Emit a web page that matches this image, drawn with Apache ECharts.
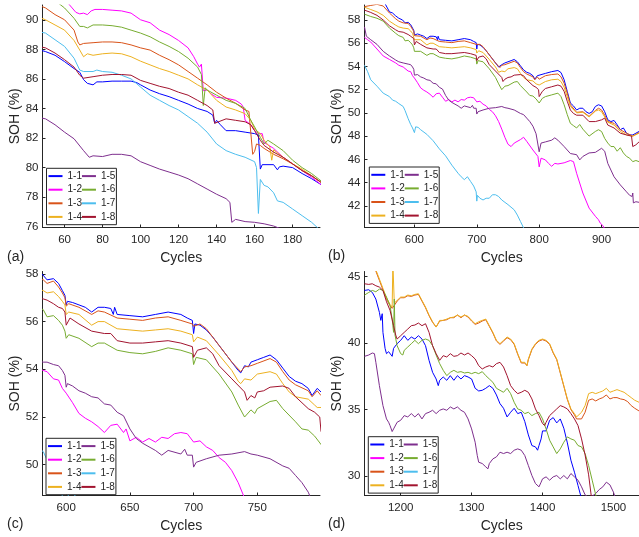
<!DOCTYPE html>
<html><head><meta charset="utf-8">
<script src="https://cdn.jsdelivr.net/npm/echarts@6/dist/echarts.min.js"></script>
<style>html,body{margin:0;padding:0;background:#fff}#chart{width:639px;height:537px}</style>
</head><body><div id="chart"></div>
<script>
const seriesNames = ['1-1','1-2','1-3','1-4','1-5','1-6','1-7','1-8'];
const seriesColors = ['#0000FF','#FF00FF','#D95319','#EDB120','#7E2F8E','#77AC30','#4DBEEE','#A2142F'];
const legendOrder = ['1-1','1-5','1-2','1-6','1-3','1-7','1-4','1-8'];
const panelLabels = ['(a)','(b)','(c)','(d)'];

// tick values
const xTicksA = [60,80,100,120,140,160,180];
const yTicksA = [76,78,80,82,84,86,88,90];
const xTicksB = [600,700,800,900];
const yTicksB = [42,44,46,48,50,52,54,56,58];
const xTicksC = [600,650,700,750];
const yTicksC = [50,52,54,56,58];
const xTicksD = [1200,1300,1400,1500];
const yTicksD = [30,35,40,45];

// ---- panel (a): cycles 48-195 ----
const A11 = [[48,87.92],[50,87.85],[55,87.6],[60,87.17],[65,86.7],[68,86.45],[70,85.95],[72,85.7],[75,85.6],[77,85.8],[80,85.8],[85,85.85],[90,85.85],[95,85.85],[98,85.75],[100,85.6],[105,85.25],[110,85.0],[115,84.8],[120,84.55],[125,84.3],[130,84.0],[135,83.8],[138,83.55],[139,83.0],[140,83.2],[142,82.9],[145,82.5],[150,82.5],[155,82.4],[160,82.3],[162,82.2],[163,79.9],[164,80.2],[165,80.25],[170,80.2],[172,79.85],[173,80.05],[175,80.1],[180,80.0],[185,79.6],[190,79.25],[195,78.85]];
const A12 = [[60,91.6],[62,91.1],[64,90.8],[66,90.5],[68,90.4],[70,90.45],[72,90.35],[74,90.6],[76,90.7],[80,90.7],[85,90.65],[90,90.6],[95,90.45],[100,90.0],[105,89.8],[110,89.3],[115,89.0],[120,88.6],[125,88.1],[128,87.5],[130,87.0],[131,86.8],[132,87.0],[133,85.2],[135,85.25],[137,85.0],[140,84.75],[145,84.7],[150,84.55],[153,84.3],[154,84.1],[155,83.2],[158,82.9],[160,82.5],[162,82.3],[164,82.3],[165,81.7],[170,81.3],[175,80.7],[180,80.25],[185,79.8],[190,79.35],[195,78.85]];
const A13 = [[48,90.9],[50,90.8],[55,90.35],[60,90.0],[65,89.3],[67,88.5],[68,88.3],[70,88.4],[75,88.45],[80,88.5],[85,88.5],[90,88.45],[95,88.3],[100,88.1],[105,87.95],[110,87.6],[115,87.3],[120,86.95],[125,86.5],[130,86.05],[135,85.6],[140,85.1],[145,84.7],[150,84.35],[155,83.9],[157,83.8],[158,83.85],[159,80.9],[160,81.1],[161,81.6],[163,81.5],[165,81.3],[170,80.9],[175,80.6],[180,80.25],[185,79.8],[190,79.45],[195,79.0]];
const A14 = [[48,90.1],[50,90.0],[55,89.65],[60,89.3],[65,88.6],[68,87.95],[70,87.5],[72,87.7],[75,87.6],[80,87.7],[85,87.75],[90,87.7],[95,87.5],[100,87.2],[105,86.95],[110,86.7],[115,86.5],[120,86.25],[125,86.0],[130,85.6],[135,85.25],[140,84.55],[145,84.1],[150,83.9],[155,83.65],[158,83.2],[160,82.6],[163,82.3],[165,81.85],[168,81.4],[169,80.5],[170,81.2],[175,80.7],[180,80.25],[185,79.9],[190,79.45],[195,79.0]];
const A15 = [[48,83.35],[50,83.3],[55,82.9],[60,82.4],[65,81.95],[70,81.15],[73,80.7],[75,80.8],[80,80.75],[85,80.9],[90,80.9],[95,80.8],[100,80.4],[105,80.15],[110,79.9],[115,79.7],[120,79.5],[125,79.25],[130,78.9],[135,78.55],[140,78.2],[145,77.9],[147,77.65],[148,76.3],[150,76.5],[155,76.35],[160,76.3],[165,76.2],[170,76.05],[173,75.9],[178,75.7]];
const A16 = [[55,91.5],[57,91.1],[60,90.8],[65,90.1],[68,89.55],[70,89.55],[72,89.45],[75,89.65],[80,89.65],[85,89.6],[90,89.5],[95,89.3],[100,89.1],[105,88.85],[110,88.5],[115,88.2],[120,87.85],[125,87.4],[130,86.8],[132,86.3],[133,84.2],[134,85.4],[135,85.25],[140,84.9],[145,84.55],[150,84.35],[155,84.0],[158,83.2],[160,82.75],[163,82.05],[165,81.6],[167,81.85],[170,81.6],[175,81.15],[180,80.5],[185,80.0],[190,79.6],[195,79.1]];
const A17 = [[48,89.15],[50,89.1],[55,88.65],[60,88.2],[65,87.4],[68,86.6],[70,86.5],[75,86.5],[77,86.6],[80,86.5],[85,86.45],[90,86.25],[95,86.0],[100,85.45],[105,84.9],[110,84.55],[115,84.2],[120,83.9],[125,83.45],[130,83.0],[135,82.4],[140,81.6],[145,81.15],[150,80.9],[155,80.7],[160,80.4],[161,80.0],[162,76.9],[163,79.2],[165,78.8],[167,78.7],[170,78.3],[172,77.75],[175,77.65],[180,77.2],[185,76.75],[190,76.3],[193,75.95],[196,75.6]];
const A18 = [[48,88.15],[50,88.1],[55,87.75],[60,87.3],[65,86.8],[68,86.25],[70,86.05],[75,86.15],[80,86.25],[85,86.3],[90,86.3],[95,86.25],[100,85.9],[105,85.7],[110,85.5],[115,85.35],[120,85.1],[125,84.9],[130,84.55],[135,84.2],[138,83.9],[139,83.0],[140,83.1],[145,83.3],[150,83.2],[155,83.1],[158,82.9],[160,82.5],[163,81.85],[165,81.5],[170,81.05],[175,80.7],[180,80.25],[185,79.8],[190,79.45],[195,79.0]];

// ---- panels (b) and (c): cycles 520-960 ----
const B11 = [[545,59.8],[553,59.4],[560,58.7],[565,58.6],[570,58.35],[575,58.15],[581,58.0],[585,57.75],[590,57.8],[594,57.6],[597,57.3],[599,57.1],[600,56.7],[601,56.85],[605,56.8],[610,56.7],[615,56.6],[620,56.4],[625,56.6],[630,56.6],[635,56.55],[637,56.3],[638,56.6],[640,56.3],[650,56.25],[660,56.2],[670,56.3],[680,56.4],[690,56.3],[695,56.15],[699,56.05],[700,55.5],[701,55.9],[705,55.85],[710,55.65],[715,55.35],[720,55.0],[725,54.65],[730,54.3],[735,53.95],[737,53.85],[740,54.15],[743,54.1],[745,54.3],[750,54.4],[755,54.5],[760,54.6],[765,54.4],[770,54.05],[775,53.7],[780,53.5],[785,53.4],[790,53.2],[793,52.9],[797,53.2],[800,53.05],[810,53.4],[820,53.55],[830,53.65],[835,53.47],[840,52.85],[845,51.85],[850,50.85],[855,50.6],[860,50.25],[865,50.4],[870,50.4],[875,50.1],[880,49.95],[885,50.1],[890,50.55],[895,50.7],[900,50.6],[905,50.1],[910,49.4],[915,49.25],[920,49.35],[925,48.97],[930,48.55],[935,48.7],[940,48.25],[945,48.1],[950,48.1],[955,48.25],[960,48.4]];
const B12 = [[520,56.5],[525,56.3],[530,56.1],[540,55.5],[550,54.9],[560,54.6],[570,54.3],[575,54.1],[582,53.95],[585,53.9],[590,53.6],[594,53.55],[597,53.2],[600,53.0],[605,52.6],[610,52.15],[615,51.95],[620,51.8],[625,51.6],[630,51.35],[635,51.65],[640,51.7],[645,51.35],[647,51.5],[650,51.0],[655,51.15],[660,50.95],[665,51.1],[670,50.95],[675,51.15],[680,51.1],[685,51.3],[690,51.35],[695,51.3],[700,50.95],[705,51.0],[710,50.75],[715,50.6],[720,50.3],[725,50.1],[730,49.75],[735,49.25],[740,48.6],[745,47.9],[750,47.3],[755,47.1],[760,47.4],[770,47.7],[775,47.9],[780,47.55],[790,46.8],[798,46.25],[800,45.35],[803,46.1],[810,45.95],[815,45.65],[820,45.4],[825,45.65],[830,45.6],[840,45.7],[850,45.9],[855,45.8],[860,44.8],[870,43.1],[880,41.8],[890,41.1],[895,40.8],[898,40.5],[900,40.6],[902,40.3],[910,39.5]];
const B13 = [[520,59.15],[530,59.25],[540,59.35],[550,59.2],[560,58.6],[570,58.1],[575,57.9],[582,57.75],[585,57.6],[590,57.7],[594,57.45],[597,57.2],[599,57.0],[600,56.65],[602,56.75],[610,56.6],[620,56.3],[625,56.45],[630,56.4],[640,56.15],[650,56.1],[660,56.05],[670,56.15],[680,56.2],[690,56.05],[699,55.9],[700,55.8],[705,55.9],[710,55.7],[720,55.0],[730,54.3],[737,53.9],[740,54.1],[745,54.15],[750,54.25],[760,54.45],[765,54.3],[770,53.9],[775,53.55],[780,53.35],[790,53.1],[793,52.85],[797,53.1],[800,52.9],[810,53.2],[820,53.3],[830,53.35],[835,53.1],[840,52.55],[845,51.7],[850,50.7],[860,50.05],[870,50.1],[880,49.7],[890,50.2],[895,50.4],[900,50.25],[905,49.8],[910,49.25],[920,49.1],[930,48.55],[940,48.25],[950,48.0],[960,48.3]];
const B14 = [[520,59.1],[530,58.9],[540,58.7],[550,58.4],[560,57.9],[570,57.55],[575,57.4],[582,57.3],[585,57.2],[590,57.25],[594,57.05],[597,56.85],[599,56.7],[600,56.3],[602,56.4],[610,56.3],[620,55.85],[625,56.0],[630,56.0],[640,55.7],[650,55.65],[660,55.6],[670,55.65],[680,55.7],[690,55.6],[699,55.45],[700,55.15],[703,55.35],[710,55.2],[720,54.6],[730,53.95],[735,53.5],[737,53.4],[740,53.6],[745,53.55],[750,53.8],[760,53.9],[765,53.8],[770,53.4],[775,53.05],[780,52.85],[790,52.75],[795,52.5],[797,52.4],[800,52.4],[810,52.7],[820,52.85],[830,52.9],[835,52.7],[840,52.2],[845,51.4],[850,50.55],[860,50.0],[870,50.05],[880,49.65],[890,50.15],[895,50.25],[900,50.1],[910,49.2],[920,48.95],[930,48.4],[940,48.1],[950,48.0],[960,48.25]];
const B15 = [[520,57.4],[522,57.5],[523,56.6],[530,56.3],[540,55.9],[550,55.3],[560,54.9],[570,54.55],[575,54.4],[582,54.3],[585,54.3],[590,54.2],[594,54.15],[597,53.95],[599,53.75],[600,53.25],[601,53.4],[605,53.3],[610,53.1],[615,53.0],[620,52.85],[625,52.8],[630,52.55],[635,52.5],[640,52.2],[645,52.05],[650,51.5],[655,51.1],[660,50.9],[670,50.6],[675,50.4],[680,50.6],[690,50.45],[693,50.65],[695,50.4],[699,50.4],[700,49.9],[702,50.1],[710,50.25],[720,50.4],[730,50.45],[740,50.55],[745,50.45],[750,50.4],[760,50.25],[770,49.95],[775,49.85],[780,49.55],[785,49.25],[790,48.85],[795,48.2],[800,46.65],[803,47.4],[810,47.5],[820,47.65],[825,47.85],[830,47.65],[840,47.1],[850,46.5],[860,46.4],[865,45.95],[870,46.25],[880,46.55],[890,46.6],[900,46.95],[905,46.7],[910,45.65],[920,44.5],[930,43.8],[940,43.2],[945,42.9],[949,42.8],[950,43.1],[951,42.25],[955,42.35],[960,42.3]];
const B16 = [[520,58.5],[530,58.3],[540,58.15],[550,57.9],[560,57.3],[570,56.85],[575,56.65],[582,56.5],[585,56.2],[590,56.25],[594,56.05],[597,55.85],[599,55.6],[600,55.3],[602,55.45],[610,55.3],[620,54.95],[625,55.1],[630,55.1],[640,54.8],[650,54.7],[660,54.65],[670,54.75],[680,54.9],[690,54.8],[699,54.65],[700,54.2],[702,54.5],[710,54.4],[720,53.8],[730,53.05],[735,52.5],[740,52.0],[745,52.3],[748,52.15],[750,52.35],[760,52.65],[765,52.7],[770,52.35],[780,51.8],[785,51.5],[790,51.45],[795,51.2],[800,50.85],[805,51.25],[810,51.4],[820,51.55],[830,51.7],[835,51.4],[840,50.7],[845,49.85],[850,49.1],[855,48.9],[860,48.7],[865,49.0],[870,48.6],[880,48.0],[890,48.4],[895,48.55],[900,48.4],[905,47.8],[910,47.4],[915,47.1],[920,47.1],[925,46.7],[930,47.0],[935,46.55],[940,46.25],[945,46.1],[950,45.8],[955,45.9],[960,45.8]];
const B17 = [[520,54.1],[525,53.55],[530,52.85],[540,52.3],[550,51.7],[560,51.4],[565,51.1],[570,51.0],[575,50.8],[582,50.55],[585,50.2],[590,49.5],[594,49.0],[597,48.7],[599,48.55],[600,48.3],[602,48.8],[606,48.75],[610,48.55],[620,48.15],[630,47.6],[640,46.9],[650,46.3],[660,45.5],[670,44.8],[675,44.5],[680,44.25],[685,44.5],[690,44.1],[695,43.7],[699,43.2],[700,42.4],[701,42.9],[705,42.65],[710,42.5],[715,42.65],[720,42.65],[725,42.95],[730,42.95],[735,42.8],[740,42.5],[750,42.1],[760,41.65],[765,41.2],[770,40.65],[775,40.1],[780,39.5]];
const B18 = [[520,58.85],[530,58.65],[540,58.4],[550,58.0],[560,57.5],[570,57.15],[575,57.0],[582,56.95],[585,56.9],[590,56.75],[594,56.6],[597,56.55],[599,56.4],[600,55.85],[603,56.15],[610,55.9],[620,55.6],[630,55.5],[635,55.5],[640,55.2],[650,55.1],[660,55.1],[670,55.15],[680,55.2],[690,55.1],[699,54.95],[700,54.5],[703,54.8],[710,54.9],[715,54.65],[720,54.15],[730,53.6],[740,53.05],[742,52.7],[745,52.9],[748,52.8],[750,53.05],[755,53.1],[760,53.25],[770,53.3],[775,53.2],[780,52.85],[790,52.35],[795,52.2],[799,52.0],[800,51.4],[805,51.85],[810,52.1],[820,52.25],[830,52.4],[835,52.3],[840,51.85],[845,51.0],[850,50.25],[855,49.95],[860,49.8],[870,49.8],[880,49.25],[890,49.25],[900,49.4],[905,49.55],[910,48.95],[920,48.7],[930,48.25],[940,48.1],[948,48.0],[950,47.1],[955,47.25],[960,47.5]];

// ---- panel (d): cycles 1149-1536 ----
const D11 = [[1149,43.95],[1155,44.0],[1160,43.8],[1165,43.3],[1170,42.3],[1172,41.7],[1174,42.2],[1175,40.8],[1178,39.6],[1180,39.2],[1183,39.35],[1185,39.2],[1188,39.0],[1190,39.6],[1195,39.95],[1200,40.2],[1205,40.55],[1210,40.2],[1215,40.45],[1220,40.3],[1225,40.55],[1230,40.3],[1235,39.8],[1240,38.7],[1245,37.8],[1250,37.3],[1253,36.8],[1255,37.2],[1260,37.45],[1265,37.2],[1270,37.55],[1275,37.2],[1280,37.55],[1285,37.3],[1290,37.55],[1295,37.45],[1300,37.3],[1305,36.6],[1310,36.4],[1315,36.45],[1320,36.6],[1325,36.8],[1330,36.6],[1335,36.1],[1340,35.45],[1345,35.1],[1350,34.45],[1355,34.8],[1360,35.1],[1365,34.7],[1370,34.8],[1375,34.1],[1380,33.1],[1385,32.3],[1390,32.2],[1393,31.95],[1395,32.3],[1398,32.8],[1400,33.4],[1405,33.4],[1410,34.2],[1415,34.4],[1420,34.0],[1425,34.3],[1430,33.6],[1435,32.5],[1440,31.2],[1445,30.3],[1450,29.3],[1455,28.3]];
const D12 = [];
const D13 = [[1160,46.0],[1165,45.4],[1170,44.7],[1175,44.0],[1180,43.3],[1185,42.8],[1188,42.6],[1192,42.9],[1195,43.15],[1200,43.4],[1205,43.4],[1210,43.55],[1215,43.5],[1220,43.6],[1225,43.65],[1230,43.15],[1235,42.65],[1240,42.05],[1245,41.55],[1250,41.2],[1255,41.65],[1260,41.7],[1265,41.75],[1270,41.9],[1275,41.9],[1280,42.1],[1285,41.9],[1290,42.1],[1295,41.95],[1300,41.65],[1305,41.4],[1310,41.5],[1315,41.65],[1320,41.75],[1325,41.25],[1330,40.75],[1335,40.15],[1340,39.9],[1345,40.15],[1350,40.4],[1355,40.25],[1360,39.9],[1365,39.15],[1370,38.5],[1375,38.5],[1378,38.3],[1380,38.75],[1385,39.5],[1390,39.9],[1395,40.15],[1400,40.25],[1405,40.15],[1410,39.9],[1415,39.25],[1420,38.75],[1425,37.75],[1430,36.75],[1435,35.75],[1440,35.0],[1445,34.6],[1448,34.3],[1450,34.3],[1455,34.3],[1460,34.8],[1465,35.7],[1470,35.8],[1475,35.65],[1480,35.8],[1485,35.9],[1490,36.1],[1495,35.8],[1500,35.9],[1505,35.9],[1510,35.8],[1515,35.75],[1520,35.6],[1525,35.3],[1530,35.1],[1536,34.9]];
const D14 = [[1165,45.5],[1170,44.8],[1175,44.1],[1180,43.4],[1185,42.9],[1188,42.7],[1189,46.0],[1190,46.0],[1191,43.0],[1195,43.2],[1200,43.45],[1205,43.45],[1210,43.6],[1215,43.55],[1220,43.65],[1225,43.7],[1230,43.2],[1235,42.7],[1240,42.1],[1245,41.6],[1250,41.2],[1255,41.7],[1260,41.7],[1265,41.8],[1270,41.9],[1275,41.95],[1280,42.1],[1285,41.95],[1290,42.1],[1295,42.0],[1300,41.7],[1305,41.45],[1310,41.6],[1315,41.7],[1320,41.8],[1325,41.3],[1330,40.8],[1335,40.2],[1340,39.95],[1345,40.2],[1350,40.45],[1355,40.3],[1360,39.95],[1365,39.2],[1370,38.55],[1375,38.55],[1378,38.3],[1380,38.8],[1385,39.55],[1390,39.95],[1395,40.2],[1400,40.3],[1405,40.2],[1410,39.95],[1415,39.3],[1420,38.8],[1425,37.8],[1430,36.8],[1435,35.8],[1440,35.05],[1445,34.7],[1448,34.45],[1450,34.55],[1455,34.8],[1460,35.3],[1465,36.2],[1470,36.3],[1475,36.2],[1480,36.3],[1485,36.4],[1490,36.6],[1495,36.3],[1500,36.4],[1505,36.5],[1510,36.4],[1515,36.3],[1520,36.1],[1525,35.9],[1530,35.7],[1536,35.55]];
const D15 = [[1149,39.0],[1155,39.1],[1160,39.25],[1163,39.2],[1165,38.55],[1170,36.8],[1175,35.3],[1180,34.3],[1183,34.05],[1185,33.8],[1188,33.35],[1190,33.55],[1195,34.05],[1200,34.2],[1205,34.55],[1210,34.45],[1215,34.7],[1220,34.45],[1225,34.7],[1230,34.3],[1235,34.7],[1240,34.8],[1245,34.95],[1250,34.7],[1255,34.95],[1260,35.05],[1265,34.95],[1270,35.2],[1275,35.05],[1280,35.2],[1285,34.95],[1290,34.8],[1295,34.3],[1300,33.55],[1305,32.55],[1308,31.55],[1310,31.05],[1315,30.95],[1320,30.7],[1323,30.55],[1325,30.95],[1330,31.3],[1335,31.45],[1340,31.8],[1345,31.7],[1350,31.8],[1355,31.7],[1360,31.95],[1365,32.05],[1370,31.95],[1375,31.55],[1380,30.8],[1385,30.05],[1390,29.45],[1395,29.2],[1398,29.55],[1400,29.8],[1405,29.95],[1410,29.7],[1415,29.95],[1420,30.05],[1425,29.8],[1430,30.05],[1435,29.8],[1440,30.2],[1445,29.95],[1450,29.7],[1455,29.2],[1460,28.6],[1465,28.4],[1470,28.5],[1475,28.7],[1480,29.0],[1485,29.2],[1490,29.55],[1495,29.35],[1500,28.8],[1503,28.3]];
const D16 = [[1149,43.6],[1155,43.8],[1160,43.95],[1165,43.85],[1170,44.05],[1175,43.95],[1180,43.45],[1185,42.8],[1188,41.8],[1190,40.8],[1191,43.3],[1192,40.6],[1195,39.8],[1200,39.2],[1203,39.1],[1205,39.45],[1210,39.7],[1215,39.95],[1220,40.2],[1225,39.95],[1230,40.2],[1235,40.3],[1240,40.2],[1245,39.8],[1250,39.1],[1255,38.45],[1260,37.95],[1265,37.55],[1270,37.8],[1275,37.95],[1280,37.8],[1285,37.85],[1290,37.75],[1295,37.8],[1300,37.7],[1305,37.8],[1310,37.7],[1315,37.85],[1320,37.55],[1325,37.3],[1330,37.05],[1335,36.6],[1340,36.45],[1345,36.3],[1350,36.6],[1355,36.2],[1360,35.55],[1365,35.05],[1370,34.95],[1375,34.7],[1380,34.8],[1385,34.55],[1390,34.7],[1395,34.8],[1400,34.3],[1405,33.55],[1410,32.7],[1415,32.2],[1420,31.7],[1425,32.05],[1430,32.55],[1435,32.95],[1440,32.8],[1445,32.7],[1450,32.3],[1455,32.2],[1460,31.7],[1465,30.8],[1470,29.7],[1475,28.6],[1478,28.0]];
const D17 = [];
const D18 = [[1149,44.45],[1155,44.4],[1160,44.45],[1165,44.3],[1170,44.2],[1175,43.95],[1180,43.1],[1185,42.45],[1190,41.3],[1193,40.6],[1195,40.3],[1200,40.55],[1205,40.8],[1210,41.05],[1215,41.3],[1220,41.35],[1225,41.5],[1230,41.3],[1235,41.45],[1240,40.8],[1245,39.8],[1250,39.2],[1255,38.7],[1260,39.05],[1265,38.95],[1270,39.2],[1275,39.0],[1280,39.05],[1285,39.25],[1290,39.1],[1295,39.25],[1300,39.05],[1305,38.8],[1310,38.3],[1315,38.05],[1320,38.2],[1325,38.3],[1330,38.2],[1335,38.45],[1340,38.55],[1345,38.2],[1350,37.55],[1355,36.8],[1360,36.45],[1365,36.2],[1370,36.3],[1375,36.45],[1380,36.3],[1385,35.8],[1390,35.05],[1395,34.55],[1400,33.95],[1403,33.8],[1405,34.05],[1410,34.55],[1415,34.8],[1420,35.05],[1425,35.3],[1430,35.2],[1435,35.05],[1440,34.7],[1445,34.3],[1450,33.8],[1455,32.8],[1460,31.6],[1465,30.1],[1468,28.8],[1470,28.0]];

const panelData = [
  [A11,A12,A13,A14,A15,A16,A17,A18],
  [B11,B12,B13,B14,B15,B16,B17,B18],
  [B11,B12,B13,B14,B15,B16,B17,B18],
  [D11,D12,D13,D14,D15,D16,D17,D18]
];
const xRanges = [[48.4,194.4],[520,960],[581.4,799.2],[1149,1536]];
const yRanges = [[75.95,91.0],[40.13,59.29],[48.71,58.1],[28.55,45.37]];
const xTicks = [xTicksA,xTicksB,xTicksC,xTicksD];
const yTicks = [yTicksA,yTicksB,yTicksC,yTicksD];

const FONT = 'Liberation Sans, Arial, Helvetica, sans-serif';
const INK = '#262626';
const grids = [
  {left:42.5, top:5, width:277.5, height:222.5},
  {left:364.5, top:5, width:274.5, height:222.5},
  {left:42.5, top:271.5, width:277.5, height:224},
  {left:364.5, top:271.5, width:274.5, height:224}
];
const legendPos = [[46.5,168.3],[369.3,167],[46,438.3],[368.3,436.7]];
const labelPos = [[7,250],[328,249.5],[7,517],[328,517]];
const plainNum = v => String(v);

const xAxes = [], yAxes = [], series = [], legends = [], graphics = [];
for (let p = 0; p < 4; p++) {
  xAxes.push({
    type:'value', gridIndex:p, min:xRanges[p][0], max:xRanges[p][1],
    axisLine:{onZero:false, lineStyle:{color:INK, width:1}},
    axisTick:{inside:true, length:3, customValues:xTicks[p], lineStyle:{color:INK}},
    axisLabel:{customValues:xTicks[p], formatter:plainNum, margin:6, color:INK, fontSize:11.5, fontFamily:FONT},
    splitLine:{show:false},
    name:'Cycles', nameLocation:'middle', nameGap:24,
    nameTextStyle:{fontSize:14, color:INK, fontFamily:FONT}
  });
  yAxes.push({
    type:'value', gridIndex:p, min:yRanges[p][0], max:yRanges[p][1],
    axisLine:{show:true, onZero:false, lineStyle:{color:INK, width:1}},
    axisTick:{show:true, inside:true, length:3, customValues:yTicks[p], lineStyle:{color:INK}},
    axisLabel:{customValues:yTicks[p], formatter:plainNum, margin:4, color:INK, fontSize:11.5, fontFamily:FONT},
    splitLine:{show:false},
    name:'SOH (%)', nameLocation:'middle', nameGap:20,
    nameTextStyle:{fontSize:14, color:INK, fontFamily:FONT}
  });
  for (let i = 0; i < 8; i++) {
    series.push({
      type:'line', name:seriesNames[i], xAxisIndex:p, yAxisIndex:p,
      data:panelData[p][i], symbol:'none', showSymbol:false, clip:true,
      lineStyle:{width:1, color:seriesColors[i]}, itemStyle:{color:seriesColors[i]},
      animation:false
    });
  }
  legends.push({
    data:legendOrder, orient:'horizontal', left:legendPos[p][0], top:legendPos[p][1],
    width:70, itemWidth:14, itemHeight:2, itemGap:0, icon:'rect',
    padding:[1,1,1,2], borderColor:INK, borderWidth:1, backgroundColor:'#ffffff',
    selectedMode:false,
    textStyle:{fontSize:10, color:INK, fontFamily:FONT, lineHeight:13.6}
  });
  graphics.push({
    type:'text', left:labelPos[p][0], top:labelPos[p][1],
    style:{text:panelLabels[p], fontSize:14, fill:INK, font:'14px ' + FONT}
  });
}

const chart = echarts.init(document.getElementById('chart'), null, {renderer:'canvas'});
chart.setOption({
  backgroundColor:'#ffffff',
  animation:false,
  grid:grids, xAxis:xAxes, yAxis:yAxes, series:series, legend:legends, graphic:graphics
});
</script>
</body></html>
